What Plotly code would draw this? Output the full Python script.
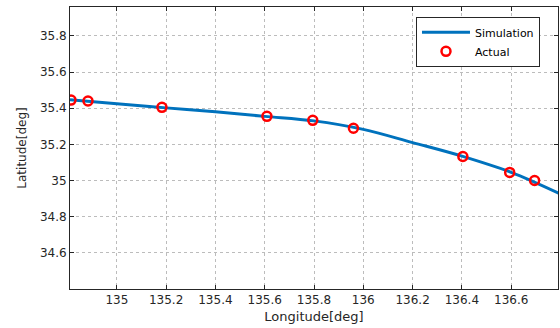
import plotly.graph_objects as go

sim_lon = [134.81, 135.0, 135.2, 135.4, 135.6, 135.8, 136.0, 136.2, 136.4, 136.6, 136.8]
sim_lat = [35.447, 35.425, 35.402, 35.38, 35.355, 35.33, 35.283, 35.21, 35.135, 35.045, 34.925]

act_lon = [134.814, 134.883, 135.183, 135.609, 135.795, 135.96, 136.404, 136.594, 136.695]
act_lat = [35.445, 35.44, 35.405, 35.355, 35.333, 35.289, 35.133, 35.045, 35.0]

x_ticks = [135, 135.2, 135.4, 135.6, 135.8, 136, 136.2, 136.4, 136.6]
x_labels = ["135", "135.2", "135.4", "135.6", "135.8", "136", "136.2", "136.4", "136.6"]
y_ticks = [34.6, 34.8, 35, 35.2, 35.4, 35.6, 35.8]
y_labels = ["34.6", "34.8", "35", "35.2", "35.4", "35.6", "35.8"]

FONT = "DejaVu Sans"

fig = go.Figure()
fig.add_trace(go.Scatter(x=sim_lon, y=sim_lat, mode="lines", name="Simulation",
                         line=dict(color="#0072BD", width=3, shape="spline")))
fig.add_trace(go.Scatter(x=act_lon, y=act_lat, mode="markers", name="Actual",
                         marker=dict(symbol="circle-open", color="#FF0000", size=9,
                                     line=dict(width=2.5, color="#FF0000"))))

axis_common = dict(showgrid=True, gridcolor="#bcbcbc", griddash="dot", gridwidth=1,
                   showline=True, linecolor="#262626", linewidth=1, mirror="ticks",
                   ticks="inside", ticklen=4, tickcolor="#262626",
                   tickfont=dict(family=FONT, size=12, color="#262626"),
                   zeroline=False, automargin=False)

fig.update_xaxes(range=[134.81, 136.79], tickvals=x_ticks, ticktext=x_labels,
                 title=dict(text="Longitude[deg]", standoff=5,
                            font=dict(family=FONT, size=13, color="#262626")),
                 **axis_common)
fig.update_yaxes(range=[34.4, 35.96], tickvals=y_ticks, ticktext=y_labels,
                 title=dict(text="Latitude[deg]", standoff=10,
                            font=dict(family=FONT, size=12, color="#262626")),
                 **axis_common)

fig.update_layout(width=560, height=328, margin=dict(l=70, r=2, t=7, b=39),
                  plot_bgcolor="white", paper_bgcolor="white",
                  legend=dict(x=0.709, y=0.965, xanchor="left", yanchor="top",
                              bgcolor="white", bordercolor="#262626", borderwidth=1,
                              font=dict(family=FONT, size=11, color="#000000"),
                              tracegroupgap=0, itemwidth=48),
                  showlegend=True)

fig.write_html("out.html", config={"displayModeBar": False},
               post_script="document.body.style.margin='0';document.body.style.overflow='hidden';")
